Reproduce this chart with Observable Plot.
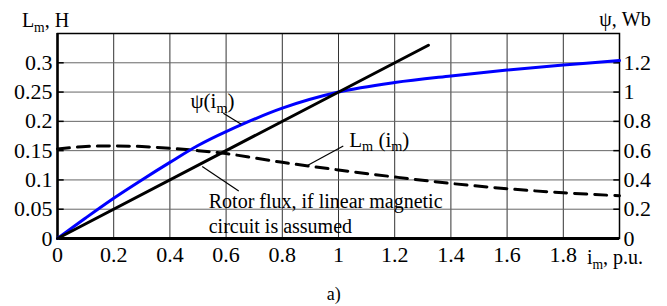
<!DOCTYPE html>
<html><head><meta charset="utf-8">
<script src="https://cdn.jsdelivr.net/npm/d3@7"></script>
<script src="https://cdn.jsdelivr.net/npm/@observablehq/plot@0.6"></script>
<style>body{margin:0;background:#fff;font-family:'Liberation Serif',serif} svg{display:block}</style>
</head><body><div id="chart"></div><div id="cap"></div>
<script>
// magnetising current, p.u.
const imValues  = [0, 0.1, 0.2, 0.3, 0.4, 0.5, 0.6, 0.8, 1.0, 1.2, 1.4, 1.6, 1.8, 2.0];
// rotor flux psi(i_m), Wb (right axis)
const psiValues = [0, 0.14, 0.275, 0.40, 0.52, 0.635, 0.73, 0.89, 1.0, 1.065, 1.11, 1.15, 1.185, 1.215];
// magnetising inductance L_m(i_m), H (left axis)
const lmValues  = [0.153, 0.157, 0.158, 0.157, 0.154, 0.150, 0.145, 0.130, 0.117, 0.105, 0.094, 0.085, 0.078, 0.073];
// linear magnetic circuit flux, Wb
const linIm  = [0, 1.32];
const linPsi = [0, 1.32];
// ticks
const xTicks = [0, 0.2, 0.4, 0.6, 0.8, 1.0, 1.2, 1.4, 1.6, 1.8];
const leftTicks = [0, 0.05, 0.1, 0.15, 0.2, 0.25, 0.3];
const rightTicks = [0, 0.2, 0.4, 0.6, 0.8, 1.0, 1.2];
const ratio = 4; // Wb per H on the twin axes

const fmt = d => String(+d.toFixed(2));
const curveData = imValues.map((v, i) => ({im: v, psi: psiValues[i] / ratio, lm: lmValues[i]}));
const linData = linIm.map((v, i) => ({im: v, psi: linPsi[i] / ratio}));
const tickLinks = leftTicks.slice(1).map(v => ({y: v}));

const FONT = "Liberation Serif";

const chart = Plot.plot({
  width: 667, height: 280,
  marginLeft: 57, marginRight: 48, marginTop: 33, marginBottom: 42,
  style: {fontFamily: FONT, fontSize: "22px"},
  x: {domain: [0, 2]},
  y: {domain: [0, 0.35]},
  marks: [
    Plot.ruleX(xTicks.slice(1), {stroke: "#333", strokeWidth: 1}),
    Plot.ruleY(leftTicks.slice(1), {stroke: "#666", strokeWidth: 1}),
    Plot.link(tickLinks, {x1: 0, x2: 0.022, y1: "y", y2: "y", stroke: "black", strokeWidth: 1.5}),
    Plot.link(tickLinks, {x1: 1.978, x2: 2, y1: "y", y2: "y", stroke: "black", strokeWidth: 1.5}),
    Plot.frame({stroke: "black", strokeWidth: 1.5}),
    Plot.ruleX([0], {stroke: "black", strokeWidth: 2.5}),
    Plot.ruleY([0], {stroke: "black", strokeWidth: 3}),
    Plot.line(curveData, {x: "im", y: "lm", stroke: "black", strokeWidth: 3, strokeDasharray: "12,8", curve: "catmull-rom"}),
    Plot.line(curveData, {x: "im", y: "psi", stroke: "#0000ff", strokeWidth: 3, curve: "catmull-rom"}),
    Plot.line(linData, {x: "im", y: "psi", stroke: "black", strokeWidth: 3}),
    // leader lines
    Plot.link([{a: 0.59, b: 0.214, c: 0.654, d: 0.195}], {x1: "a", y1: "b", x2: "c", y2: "d", stroke: "black", strokeWidth: 1.2}),
    Plot.link([{a: 1.017, b: 0.158, c: 0.891, d: 0.125}], {x1: "a", y1: "b", x2: "c", y2: "d", stroke: "black", strokeWidth: 1.2}),
    Plot.link([{a: 0.515, b: 0.123, c: 0.645, d: 0.081}], {x1: "a", y1: "b", x2: "c", y2: "d", stroke: "black", strokeWidth: 1.2}),
    Plot.axisX({ticks: xTicks, tickSize: 0, tickPadding: 8, tickFormat: fmt, label: null}),
    Plot.axisY({ticks: leftTicks, tickSize: 0, tickPadding: 5, tickFormat: fmt, label: null}),
    Plot.axisY({anchor: "right", ticks: rightTicks.map(v => v / ratio), tickSize: 0, tickPadding: 4, tickFormat: d => fmt(d * ratio), label: null})
  ]
});

document.getElementById("chart").appendChild(chart);
d3.select(chart).selectAll("text").attr("font-family", FONT);

const sx = chart.scale("x"), sy = chart.scale("y");
const svg = d3.select(chart);
function addText(xv, yv, parts, size, anchor) {
  const t = svg.append("text")
    .attr("x", sx.apply(xv)).attr("y", sy.apply(yv))
    .attr("font-family", FONT).attr("font-size", size)
    .attr("text-anchor", anchor || "start").attr("fill", "black");
  let shifted = false;
  for (const [s, sub] of parts) {
    const ts = t.append("tspan").text(s);
    if (sub && !shifted) { ts.attr("font-size", size * 0.68).attr("dy", size * 0.22); shifted = true; }
    else if (!sub && shifted) { ts.attr("dy", -size * 0.22); shifted = false; }
  }
}
// axis titles and annotations (positions in data units)
addText(-0.125, 0.36, [["L"], ["m", 1], [", H"]], 20);
addText(1.93, 0.362, [["ψ, Wb"]], 20);
addText(1.886, -0.045, [["i"], ["m", 1], [", p.u."]], 20);
addText(0.475, 0.222, [["ψ(i"], ["m", 1], [")"]], 21);
addText(1.04, 0.156, [["L"], ["m", 1], [" (i"], ["m", 1], [")"]], 21);
addText(0.54, 0.051, [["Rotor flux, if linear magnetic"]], 20);
addText(0.54, 0.009, [["circuit is assumed"]], 20);

// caption below the chart
const cap = d3.select("#cap").append("svg").attr("width", 667).attr("height", 26);
cap.append("text").attr("x", sx.apply(0.985)).attr("y", 20)
  .attr("font-family", FONT).attr("font-size", 18).attr("text-anchor", "middle").text("a)");
</script></body></html>
